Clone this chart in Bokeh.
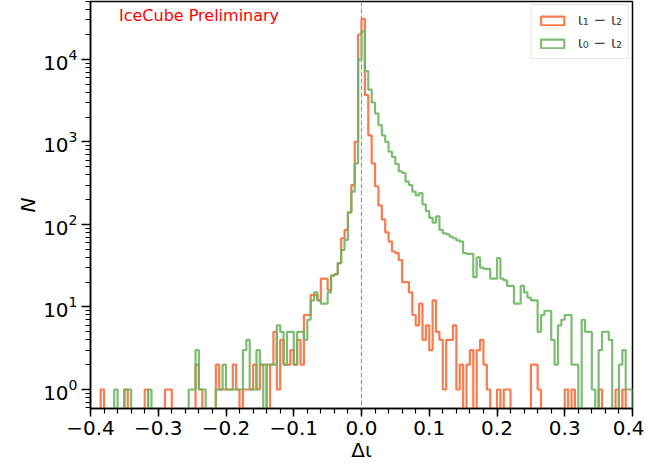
import numpy as np
from bokeh.plotting import figure
from bokeh.models import Span, Label, Legend, LegendItem, FixedTicker
from bokeh.embed import file_html
from bokeh.resources import INLINE

# ---- data -------------------------------------------------------------
bin_lo, bin_hi, n_bins = -0.4, 0.4, 160

orange_counts = [
    0, 0, 0, 1, 0, 0, 0, 0, 0, 0,          # 0-9
    1, 0, 0, 0, 0, 0, 1, 0, 0, 0,          # 10-19
    0, 0, 1, 1, 0, 0, 0, 0, 0, 0,          # 20-29
    0, 2, 1, 0, 0, 0, 0, 2, 1, 1,          # 30-39
    1, 1, 2, 1, 0, 1, 1, 1, 2, 1,          # 40-49
    2, 2, 0, 2, 5, 1, 4, 2, 2, 3,          # 50-59
    2, 4, 2, 8, 8, 14, 14, 12, 22, 22,     # 60-69
    16, 24, 25, 34, 68, 86, 140, 300, 1000, 20000,   # 70-79
    31000, 3700, 1200, 550, 290, 170, 115, 80, 62, 47,  # 80-89
    45, 37, 20, 20, 15, 8, 6, 11, 4, 6,    # 90-99
    3, 12, 5, 4, 1, 4, 4, 6, 1, 2,         # 100-109
    0, 2, 3, 0, 3, 4, 2, 1, 0, 0,          # 110-119
    1, 0, 1, 1, 0, 0, 0, 0, 0, 0,          # 120-129
    2, 2, 1, 0, 0, 0, 0, 0, 0, 0,          # 130-139
    1, 0, 1, 0, 0, 0, 0, 0, 0, 0,          # 140-149
    1, 0, 0, 0, 0, 1, 0, 1, 0, 0,          # 150-159
]

green_counts = [
    0, 0, 0, 0, 0, 0, 0, 1, 0, 0,          # 0-9
    1, 1, 0, 0, 0, 0, 0, 1, 0, 0,          # 10-19
    0, 0, 0, 0, 0, 0, 0, 0, 0, 1,          # 20-29
    1, 3, 1, 1, 0, 0, 0, 1, 1, 2,          # 30-39
    1, 1, 1, 1, 1, 3, 4, 1, 1, 3,          # 40-49
    2, 0, 2, 2, 2, 6, 5, 2, 5, 5,          # 50-59
    2, 5, 5, 4, 7, 12, 15, 12, 11, 11,     # 60-69
    15, 24, 25, 34, 49, 65, 140, 250, 550, 10000,    # 70-79
    22000, 7200, 4300, 3000, 2200, 1600, 1200, 1000, 760, 660,  # 80-89
    540, 440, 420, 330, 300, 250, 225, 240, 175, 145,  # 90-99
    120, 105, 125, 86, 78, 76, 71, 68, 64, 62,  # 100-109
    45, 44, 44, 23, 40, 30, 29, 29, 22, 22,  # 110-119
    39, 22, 21, 18, 18, 11, 11, 18, 15, 13,  # 120-129
    12, 12, 5, 8, 9, 9, 4, 2, 6, 7,        # 130-139
    8, 8, 2, 2, 0, 7, 5, 5, 1, 0,          # 140-149
    3, 5, 5, 4, 0, 0, 2, 3, 1, 1,          # 150-159
]

series_labels = ["ι₁ − ι₂", "ι₀ − ι₂"]
series_colors = ["#fa6d3a", "#6fb563"]

x_ticks = [-0.4, -0.3, -0.2, -0.1, 0.0, 0.1, 0.2, 0.3, 0.4]
x_tick_labels = ["−0.4", "−0.3", "−0.2", "−0.1", "0.0", "0.1", "0.2", "0.3", "0.4"]
x_minor_ticks = [round(-0.4 + 0.02 * i, 2) for i in range(41)]
y_lo, y_hi = 0.589, 50200

# ---- figure -----------------------------------------------------------
p = figure(frame_width=542, frame_height=407, y_axis_type="log",
           x_range=(bin_lo, bin_hi), y_range=(y_lo, y_hi),
           output_backend="svg", toolbar_location=None,
           min_border_left=90, min_border_right=12,
           min_border_top=1, min_border_bottom=54)
p.xgrid.visible = False
p.ygrid.visible = False
p.outline_line_color = "black"
p.outline_line_width = 1.5
p.outline_line_alpha = 1.0
p.background_fill_color = "white"
p.border_fill_color = "white"

edges = np.linspace(bin_lo, bin_hi, n_bins + 1)
floor = 1e-3


def outline(counts):
    c = np.array(counts, dtype=float)
    c = np.where(c > 0, c, floor)
    xs = np.repeat(edges, 2)
    ys = np.concatenate([[floor], np.repeat(c, 2), [floor]])
    return xs, ys


legend_items = []
for counts, lab, col in zip([orange_counts, green_counts], series_labels, series_colors):
    xs, ys = outline(counts)
    p.line(xs, ys, line_color=col, line_width=2.2, line_alpha=0.9)
    # off-screen rectangle used only as the legend swatch
    dummy = p.quad(left=[5.0], right=[6.0], top=[2.0], bottom=[1.0], fill_color="white",
                   fill_alpha=0.0, line_color=col, line_width=2.2, line_alpha=0.9)
    legend_items.append(LegendItem(label=lab, renderers=[dummy]))

p.add_layout(Span(location=0.0, dimension="height", line_color="#9a9a9a",
                  line_dash="5 2", line_width=1.2))

p.add_layout(Label(x=-0.358, y=34000, text="IceCube Preliminary",
                   text_color="red", text_font="DejaVu Sans",
                   text_font_size="16px", text_baseline="middle"))

legend = Legend(items=legend_items, location="top_right")
legend.label_text_font = "DejaVu Sans"
legend.label_text_font_size = "15px"
legend.glyph_width = 29
legend.glyph_height = 11
legend.spacing = 5
legend.padding = 6
legend.margin = 3
legend.label_standoff = 11
legend.label_height = 17
legend.border_line_color = "#cccccc"
legend.border_line_width = 1.5
legend.background_fill_alpha = 0.8
p.add_layout(legend)

# axes
p.xaxis.ticker = FixedTicker(ticks=x_ticks, minor_ticks=x_minor_ticks)
p.xaxis.major_label_overrides = {t: l for t, l in zip(x_ticks, x_tick_labels)}
for ax in (p.xaxis[0], p.yaxis[0]):
    ax.axis_line_width = 1.5
    ax.axis_line_color = "black"
    ax.major_tick_line_width = 1.5
    ax.minor_tick_line_width = 1.2
    ax.major_tick_in = 0
    ax.minor_tick_in = 0
    ax.major_label_text_font = "DejaVu Sans"
    ax.major_label_text_font_size = "20px"
    ax.major_label_text_color = "black"
    ax.axis_label_text_font = "DejaVu Sans"
    ax.axis_label_text_font_size = "20px"
    ax.axis_label_text_color = "black"
    ax.axis_label_text_font_style = "normal"

p.xaxis.major_tick_out = 8
p.xaxis.minor_tick_out = 5
p.yaxis.major_tick_out = 9
p.yaxis.minor_tick_out = 5
p.xaxis.axis_label = "Δι"
p.yaxis.axis_label = "N"
p.yaxis.axis_label_text_font_style = "italic"
p.xaxis.major_label_standoff = 4
p.xaxis.axis_label_standoff = 0
p.yaxis.major_label_standoff = 4
p.yaxis.axis_label_standoff = 0

open("out.html", "w").write(file_html(p, INLINE))
